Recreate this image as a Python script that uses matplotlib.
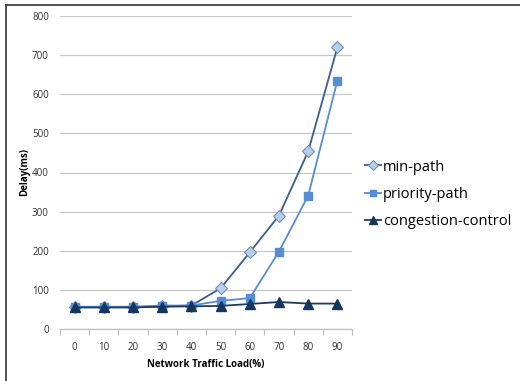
import matplotlib
matplotlib.use("Agg")
import matplotlib.pyplot as plt
from matplotlib.lines import Line2D

plt.rcParams['font.family'] = ['Open Sans', 'DejaVu Sans']

loads = ["0", "10", "20", "30", "40", "50", "60", "70", "80", "90"]
min_path = [56, 56, 56, 58, 60, 104, 196, 290, 454, 720]
priority_path = [57, 57, 57, 60, 60, 72, 79, 198, 341, 635]
congestion_control = [55, 55, 55, 57, 58, 59, 64, 69, 65, 65]
y_ticks = [0, 100, 200, 300, 400, 500, 600, 700, 800]

fig = plt.figure(figsize=(5.2, 3.81), dpi=100)
ax = fig.add_axes([60 / 520, 1 - 329 / 381, 292 / 520, 313 / 381])

x = list(range(len(loads)))
ax.plot(x, min_path, color="#3A5F8F", lw=1.3, marker="D", ms=6,
        mfc="#B9CDE5", mec="#6C8EBF", mew=0.8, label="min-path", zorder=3)
ax.plot(x, priority_path, color="#558ED5", lw=1.3, marker="s", ms=6,
        mfc="#558ED5", mec="#558ED5", label="priority-path", zorder=3)
ax.plot(x, congestion_control, color="#1F3A5F", lw=1.3, marker="^", ms=7,
        mfc="#17365D", mec="#17365D", label="congestion-control", zorder=4)

ax.set_xlim(-0.5, len(loads) - 0.5)
ax.set_ylim(0, 800)
ax.set_yticks(y_ticks)
ax.set_xticks(x)
ax.set_xticklabels(loads)
ax.set_xticks([i + 0.5 for i in range(-1, len(loads))], minor=True)
ax.tick_params(axis="x", which="major", length=0, labelsize=7, colors="#333333", pad=9)
ax.tick_params(axis="x", which="minor", length=4, color="#BFBFBF", width=0.8)
ax.tick_params(axis="y", length=0, labelsize=7, colors="#333333", pad=8)

for s in ["top", "right", "left"]:
    ax.spines[s].set_visible(False)
ax.spines["bottom"].set_color("#BFBFBF")
ax.spines["bottom"].set_linewidth(0.9)
ax.yaxis.grid(True, color="#C8C8C8", lw=0.9)
ax.set_axisbelow(True)

ax.set_xlabel("Network Traffic Load(%)", fontsize=7, fontweight="bold", labelpad=5)
ax.set_ylabel("Delay(ms)", fontsize=7, fontweight="bold", labelpad=1)

ax.legend(loc="center left", bbox_to_anchor=(1.0, 0.43), frameon=False,
          fontsize=10.5, handlelength=1.1, handletextpad=0.1, labelspacing=0.85,
          markerscale=0.8)

# outer chart frame
fig.add_artist(Line2D([6 / 520, 6 / 520], [0, 1 - 5 / 381], color="#333333", lw=1.2))
fig.add_artist(Line2D([6 / 520, 1], [1 - 5 / 381, 1 - 5 / 381], color="#333333", lw=1.2))

fig.savefig("out.png", dpi=100)
